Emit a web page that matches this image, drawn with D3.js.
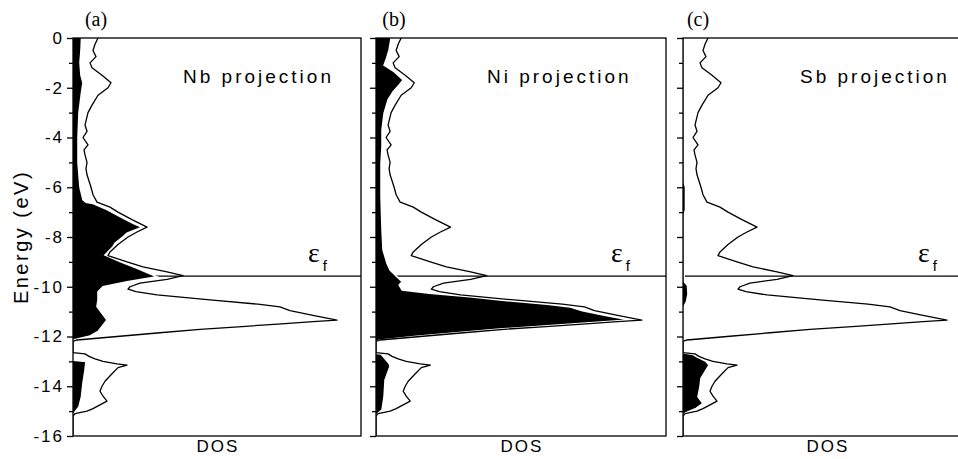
<!DOCTYPE html>
<html><head><meta charset="utf-8">
<script src="https://cdn.jsdelivr.net/npm/d3@7"></script>
<style>body{margin:0;background:#fff}svg{display:block}</style>
</head><body>
<script>
// ---- data ----
const panelLetters = ["(a)", "(b)", "(c)"];
const panelTitles = ["Nb projection", "Ni projection", "Sb projection"];
const fermiEnergy = -9.57;
const majorTicks = [0, -2, -4, -6, -8, -10, -12, -14, -16];
const minorTicks = [-1, -3, -5, -7, -9, -11, -13, -15];
// total DOS [energy, dos] (same in all panels)
const totalDOS = [[0,2.5],[-0.25,2.2],[-0.5,2.0],[-0.75,2.3],[-1.0,1.7],[-1.2,1.9],[-1.5,2.9],[-1.8,3.8],[-2.0,3.5],[-2.3,2.5],[-2.7,1.9],[-3.0,1.5],[-3.5,1.2],[-3.75,1.4],[-4.0,1.0],[-4.3,1.5],[-4.5,1.1],[-4.7,1.2],[-5.0,1.4],[-5.25,1.3],[-5.5,1.4],[-6.0,1.8],[-6.3,2.0],[-6.6,2.4],[-6.8,3.7],[-7.0,4.5],[-7.3,5.9],[-7.6,7.4],[-7.8,6.4],[-8.0,5.5],[-8.3,4.5],[-8.6,3.7],[-8.75,3.5],[-9.0,5.4],[-9.2,7.0],[-9.4,9.4],[-9.55,11.0],[-9.7,9.4],[-9.85,6.7],[-10.0,5.7],[-10.1,5.5],[-10.2,6.3],[-10.33,8.4],[-10.53,13.7],[-10.7,18.5],[-10.81,20.7],[-10.96,21.7],[-11.15,24.0],[-11.34,26.4],[-11.4,24.0],[-11.5,20.5],[-11.6,16.9],[-11.71,12.7],[-11.85,8.7],[-12.0,4.4],[-12.14,0.4],[-12.2,0],[-12.65,0],[-12.7,1.2],[-12.8,1.6],[-12.9,2.2],[-13.0,3.0],[-13.1,4.4],[-13.15,5.4],[-13.25,4.5],[-13.5,3.9],[-13.8,3.2],[-14.0,2.9],[-14.2,2.7],[-14.4,3.0],[-14.6,3.4],[-14.75,2.7],[-14.9,2.0],[-15.0,1.4],[-15.1,0.2],[-15.2,0],[-16,0]];
// projected DOS [energy, dos]
const nbDOS = [[0,0.85],[-0.5,0.8],[-1,0.7],[-1.5,0.8],[-1.8,1.0],[-2.2,0.85],[-3,0.6],[-4,0.5],[-5,0.5],[-6,0.7],[-6.5,1.0],[-6.6,1.3],[-6.65,2.0],[-6.9,3.4],[-7.18,4.7],[-7.45,6.0],[-7.61,6.9],[-7.85,5.4],[-7.99,5.0],[-8.25,4.2],[-8.39,4.0],[-8.72,3.2],[-8.99,4.7],[-9.26,6.4],[-9.6,8.4],[-9.8,5.4],[-10.0,3.0],[-10.2,2.5],[-10.53,2.5],[-10.8,2.4],[-11.07,2.9],[-11.34,3.4],[-11.6,2.9],[-11.8,2.5],[-11.98,1.7],[-12.14,0],[-12.95,0],[-13.0,1.3],[-13.35,1.2],[-13.87,1.0],[-14.42,0.85],[-14.82,0.6],[-15.09,0.1],[-15.15,0],[-16,0]];
const niDOS = [[0,1.5],[-0.48,1.3],[-0.88,1.0],[-1.09,0.8],[-1.35,1.8],[-1.69,2.7],[-1.89,2.3],[-2.16,1.7],[-2.49,1.2],[-3.03,0.8],[-3.7,0.6],[-4.37,0.6],[-5.04,0.5],[-6.38,0.5],[-7.72,0.6],[-8.52,0.7],[-9.06,1.1],[-9.33,1.4],[-9.6,2.1],[-9.8,2.6],[-9.93,2.3],[-10.13,2.6],[-10.26,5.3],[-10.4,9.3],[-10.53,12.3],[-10.7,17.0],[-10.81,19.3],[-10.96,20.5],[-11.15,22.8],[-11.34,25.2],[-11.4,23.0],[-11.5,19.5],[-11.6,16.0],[-11.71,12.0],[-11.85,8.0],[-12.0,3.8],[-12.15,0.3],[-12.2,0],[-12.68,0],[-12.7,0.5],[-13.08,1.3],[-13.2,1.4],[-13.75,0.9],[-14.42,0.8],[-14.95,0.6],[-15.16,0],[-16,0]];
const sbDOS = [[0,0.12],[-3,0.12],[-5.8,0.12],[-6.0,0.25],[-6.9,0.25],[-7.1,0.12],[-9.8,0.12],[-9.95,0.45],[-10.3,0.5],[-10.6,0.35],[-10.8,0.1],[-12.1,0.1],[-12.14,0],[-12.65,0],[-12.72,1.0],[-12.8,1.3],[-13.0,2.3],[-13.15,2.6],[-13.35,2.3],[-13.68,1.8],[-14.02,1.7],[-14.42,1.5],[-14.69,2.0],[-14.89,1.3],[-15.06,0.3],[-15.15,0],[-16,0]];
const projections = [nbDOS, niDOS, sbDOS];
const energyDomain = [0, -16];
const dosDomain = [0, 28.8];

// ---- layout ----
const W = 958, H = 459, plotTop = 38, plotBottom = 436;
const panels = [
  {left: 73, right: 361, letterX: 96, titleDx: 110},
  {left: 376, right: 666, letterX: 394, titleDx: 111},
  {left: 683, right: 971, letterX: 698, titleDx: 117}
];

const svg = d3.select("body").append("svg").attr("width", W).attr("height", H);
const y = d3.scaleLinear().domain(energyDomain).range([plotTop, plotBottom]);
const sans = "'Liberation Sans', Arial, Helvetica, sans-serif";
const serif = "'Liberation Serif', 'Times New Roman', serif";

panels.forEach((p, i) => {
  const x = d3.scaleLinear().domain(dosDomain).range([p.left, p.right]);
  const g = svg.append("g");
  const clipId = "clip" + i;
  svg.append("clipPath").attr("id", clipId).append("rect")
    .attr("x", p.left).attr("y", plotTop).attr("width", p.right - p.left).attr("height", plotBottom - plotTop);
  const inner = g.append("g").attr("clip-path", `url(#${clipId})`);

  // Fermi level
  inner.append("line").attr("x1", p.left).attr("x2", p.right)
    .attr("y1", y(fermiEnergy)).attr("y2", y(fermiEnergy))
    .attr("stroke", "#000").attr("stroke-width", 1.3);

  // projected DOS fill
  const area = d3.area().y(d => y(d[0])).x0(x(0)).x1(d => x(d[1])).curve(d3.curveLinear);
  inner.append("path").datum(projections[i]).attr("d", area).attr("fill", "#000");
  const edge = d3.line().y(d => y(d[0])).x(d => x(d[1]));
  inner.append("path").datum(projections[i]).attr("d", edge)
    .attr("fill", "none").attr("stroke", "#fff").attr("stroke-width", 1.6);

  // total DOS line
  inner.append("path").datum(totalDOS).attr("d", edge)
    .attr("fill", "none").attr("stroke", "#000").attr("stroke-width", 1.3).attr("stroke-linejoin", "round");

  // frame
  g.append("rect").attr("x", p.left).attr("y", plotTop).attr("width", p.right - p.left).attr("height", plotBottom - plotTop)
    .attr("fill", "none").attr("stroke", "#000").attr("stroke-width", 1.3);

  // axes
  const major = d3.axisLeft(y).tickValues(majorTicks).tickSize(6).tickPadding(3)
    .tickFormat(i === 0 ? (d => String(d)) : () => "");
  const ga = g.append("g").attr("transform", `translate(${p.left},0)`).call(major);
  ga.select(".domain").remove();
  ga.selectAll("line").attr("stroke-width", 1.3);
  ga.selectAll("text").attr("font-family", sans).attr("font-size", 17)
    .attr("letter-spacing", "2px").attr("fill", "#000");
  const minor = d3.axisLeft(y).tickValues(minorTicks).tickSize(4).tickFormat(() => "");
  const gm = g.append("g").attr("transform", `translate(${p.left},0)`).call(minor);
  gm.select(".domain").remove();
  gm.selectAll("line").attr("stroke-width", 1.3);

  // texts
  svg.append("text").attr("x", p.letterX).attr("y", 26).attr("text-anchor", "middle")
    .attr("font-family", serif).attr("font-size", 20)
    .text(panelLetters[i]);
  svg.append("text").attr("x", p.left + p.titleDx).attr("y", 83)
    .attr("font-family", sans).attr("font-size", 19).attr("letter-spacing", "3px")
    .text(panelTitles[i]);
  svg.append("text").attr("x", (p.left + p.right) / 2 + 1).attr("y", 452).attr("text-anchor", "middle")
    .attr("font-family", sans).attr("font-size", 17).attr("letter-spacing", "2px")
    .text("DOS");
  const ef = svg.append("text").attr("x", p.left + 235).attr("y", 262)
    .attr("font-family", serif).attr("font-size", 28);
  ef.append("tspan").text("ε");
  ef.append("tspan").attr("font-size", 15).attr("font-family", sans).attr("dx", 3).attr("dy", 9).text("f");
});

svg.append("text").attr("transform", "translate(28,237) rotate(-90)").attr("text-anchor", "middle")
  .attr("font-family", sans).attr("font-size", 20).attr("letter-spacing", "2.5px")
  .text("Energy (eV)");
</script>
</body></html>
